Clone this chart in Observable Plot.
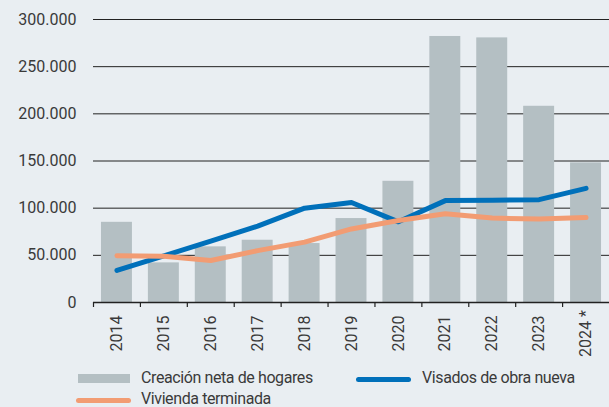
<!DOCTYPE html>
<html>
<head>
<meta charset="utf-8">
<script src="https://cdn.jsdelivr.net/npm/d3@7"></script>
<script src="https://cdn.jsdelivr.net/npm/@observablehq/plot@0.6"></script>
<style>
  html, body { margin: 0; padding: 0; background: #E9EEF2; }
  #wrap { position: relative; width: 609px; height: 407px; overflow: hidden; background: #E9EEF2;
          font-family: Roboto, sans-serif; color: #3a3a3a; }
  #chart svg { display: block; }
  .lg { position: absolute; font-size: 16px; line-height: 16px; letter-spacing: -0.4px; white-space: nowrap; color: #3a3a3a; }
  .sw { position: absolute; }
</style>
</head>
<body>
<div id="wrap">
  <div id="chart"></div>
  <div class="sw" style="left:78px; top:374px; width:52px; height:9px; background:#B4BFC3;"></div>
  <div class="lg" style="left:141px; top:370px;">Creación neta de hogares</div>
  <div class="sw" style="left:356px; top:377px; width:55px; height:5px; border-radius:3px; background:#0070BA;"></div>
  <div class="lg" style="left:422px; top:370px;">Visados de obra nueva</div>
  <div class="sw" style="left:76px; top:398px; width:55px; height:5px; border-radius:3px; background:#F29C73;"></div>
  <div class="lg" style="left:141px; top:391px;">Vivienda terminada</div>
</div>
<script>
const years = ["2014","2015","2016","2017","2018","2019","2020","2021","2022","2023","2024"];
const yearLabels = ["2014","2015","2016","2017","2018","2019","2020","2021","2022","2023","2024 *"];
const hogares = [85000, 42000, 59000, 66000, 62500, 89000, 128500, 282000, 280500, 208000, 148000];
const visados = [34000, 49500, 65000, 81000, 100000, 106000, 85500, 108000, 108500, 109000, 121000];
const terminada = [49500, 49000, 44500, 55000, 64000, 78000, 87000, 94000, 89500, 88500, 90000];
const yTicks = [0, 50000, 100000, 150000, 200000, 250000, 300000];

const rows = years.map((y, i) => ({year: y, label: yearLabels[i], hogares: hogares[i], visados: visados[i], terminada: terminada[i]}));
const fmt = v => v === 0 ? "0" : d3.format(",")(v).replace(/,/g, ".");

const W = 609, mL = 93, mR = 0;
const step = (W - mL - mR) / years.length;

const chart = Plot.plot({
  width: W,
  height: 360,
  marginTop: 19,
  marginBottom: 58,
  marginLeft: mL,
  marginRight: mR,
  style: {background: "transparent", fontFamily: "Roboto, sans-serif", fontSize: "16px", color: "#3a3a3a"},
  x: {type: "band", domain: years, paddingInner: 0.34, paddingOuter: 0.17, round: false, axis: null},
  y: {domain: [0, 300000], axis: null},
  marks: [
    Plot.gridY(yTicks.filter(d => d > 0), {stroke: "#222", strokeOpacity: 1, strokeWidth: 1}),
    Plot.axisY({ticks: yTicks, tickSize: 0, tickPadding: 17, tickFormat: fmt, fontSize: 16, fill: "#3a3a3a", label: null}),
    Plot.barY(rows, {x: "year", y: "hogares", fill: "#B4BFC3"}),
    Plot.ruleY([0], {stroke: "#222", strokeWidth: 1.5}),
    Plot.axisX({tickSize: 5, dx: -step / 2, tickFormat: () => "", stroke: "#222", strokeWidth: 1.2, label: null}),
    Plot.text(rows, {x: "year", text: "label", frameAnchor: "bottom", dy: 31, rotate: -90, textAnchor: "middle", lineAnchor: "middle", fontSize: 16, fill: "#3a3a3a"}),
    Plot.line(rows, {x: "year", y: "visados", stroke: "#0070BA", strokeWidth: 5, strokeLinecap: "round", strokeLinejoin: "round"}),
    Plot.line(rows, {x: "year", y: "terminada", stroke: "#F29C73", strokeWidth: 5, strokeLinecap: "round", strokeLinejoin: "round"})
  ]
});
document.getElementById("chart").appendChild(chart);
</script>
</body>
</html>
